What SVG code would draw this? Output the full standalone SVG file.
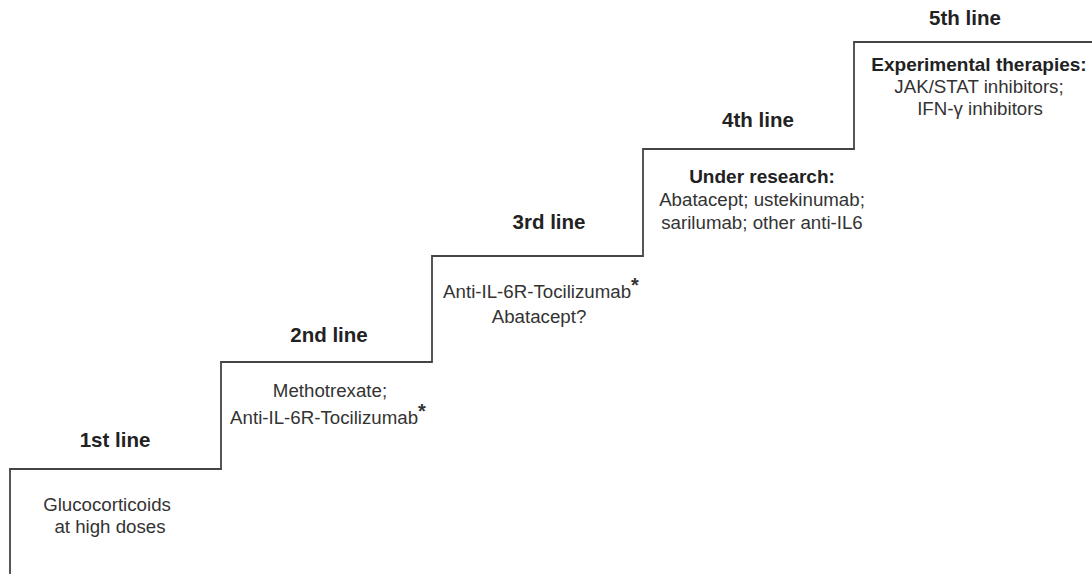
<svg xmlns="http://www.w3.org/2000/svg" width="1092" height="574" viewBox="0 0 1092 574">
<style>
.h{font-family:"Liberation Sans",Arial,sans-serif;font-weight:bold;font-size:20.5px;fill:#222;text-anchor:middle}
.s{font-family:"Liberation Sans",Arial,sans-serif;font-weight:bold;font-size:19px;fill:#222;text-anchor:middle}
.t{font-family:"Liberation Sans",Arial,sans-serif;font-size:18.7px;fill:#333;text-anchor:middle}
.sup{font-size:20px;font-weight:bold}
.stair{fill:none;stroke:#444;stroke-width:1.8}
</style>
<rect width="1092" height="574" fill="#fff"/>
<g id="connectors">
<path class="stair" d="M10,574 V469 H221 V362 H432 V256 H643 V149 H854 V42 H1092"/>
</g>
<g id="step1">
<text class="h" x="115" y="447">1st line</text>
<text class="t" x="107" y="511">Glucocorticoids</text>
<text class="t" x="110" y="533">at high doses</text>
</g>
<g id="step2">
<text class="h" x="329" y="342">2nd line</text>
<text class="t" x="330" y="397">Methotrexate;</text>
<text class="t" x="328" y="424">Anti-IL-6R-Tocilizumab<tspan class="sup" dy="-6">*</tspan></text>
</g>
<g id="step3">
<text class="h" x="549" y="229">3rd line</text>
<text class="t" x="541" y="298">Anti-IL-6R-Tocilizumab<tspan class="sup" dy="-6">*</tspan></text>
<text class="t" x="539" y="323">Abatacept?</text>
</g>
<g id="step4">
<text class="h" x="758" y="127">4th line</text>
<text class="s" x="762" y="183">Under research:</text>
<text class="t" x="762" y="206">Abatacept; ustekinumab;</text>
<text class="t" x="762" y="229">sarilumab; other anti-IL6</text>
</g>
<g id="step5">
<text class="h" x="965" y="25">5th line</text>
<text class="s" x="979" y="71">Experimental therapies:</text>
<text class="t" x="979" y="93">JAK/STAT inhibitors;</text>
<text class="t" x="980" y="115">IFN-γ inhibitors</text>
</g>
</svg>
